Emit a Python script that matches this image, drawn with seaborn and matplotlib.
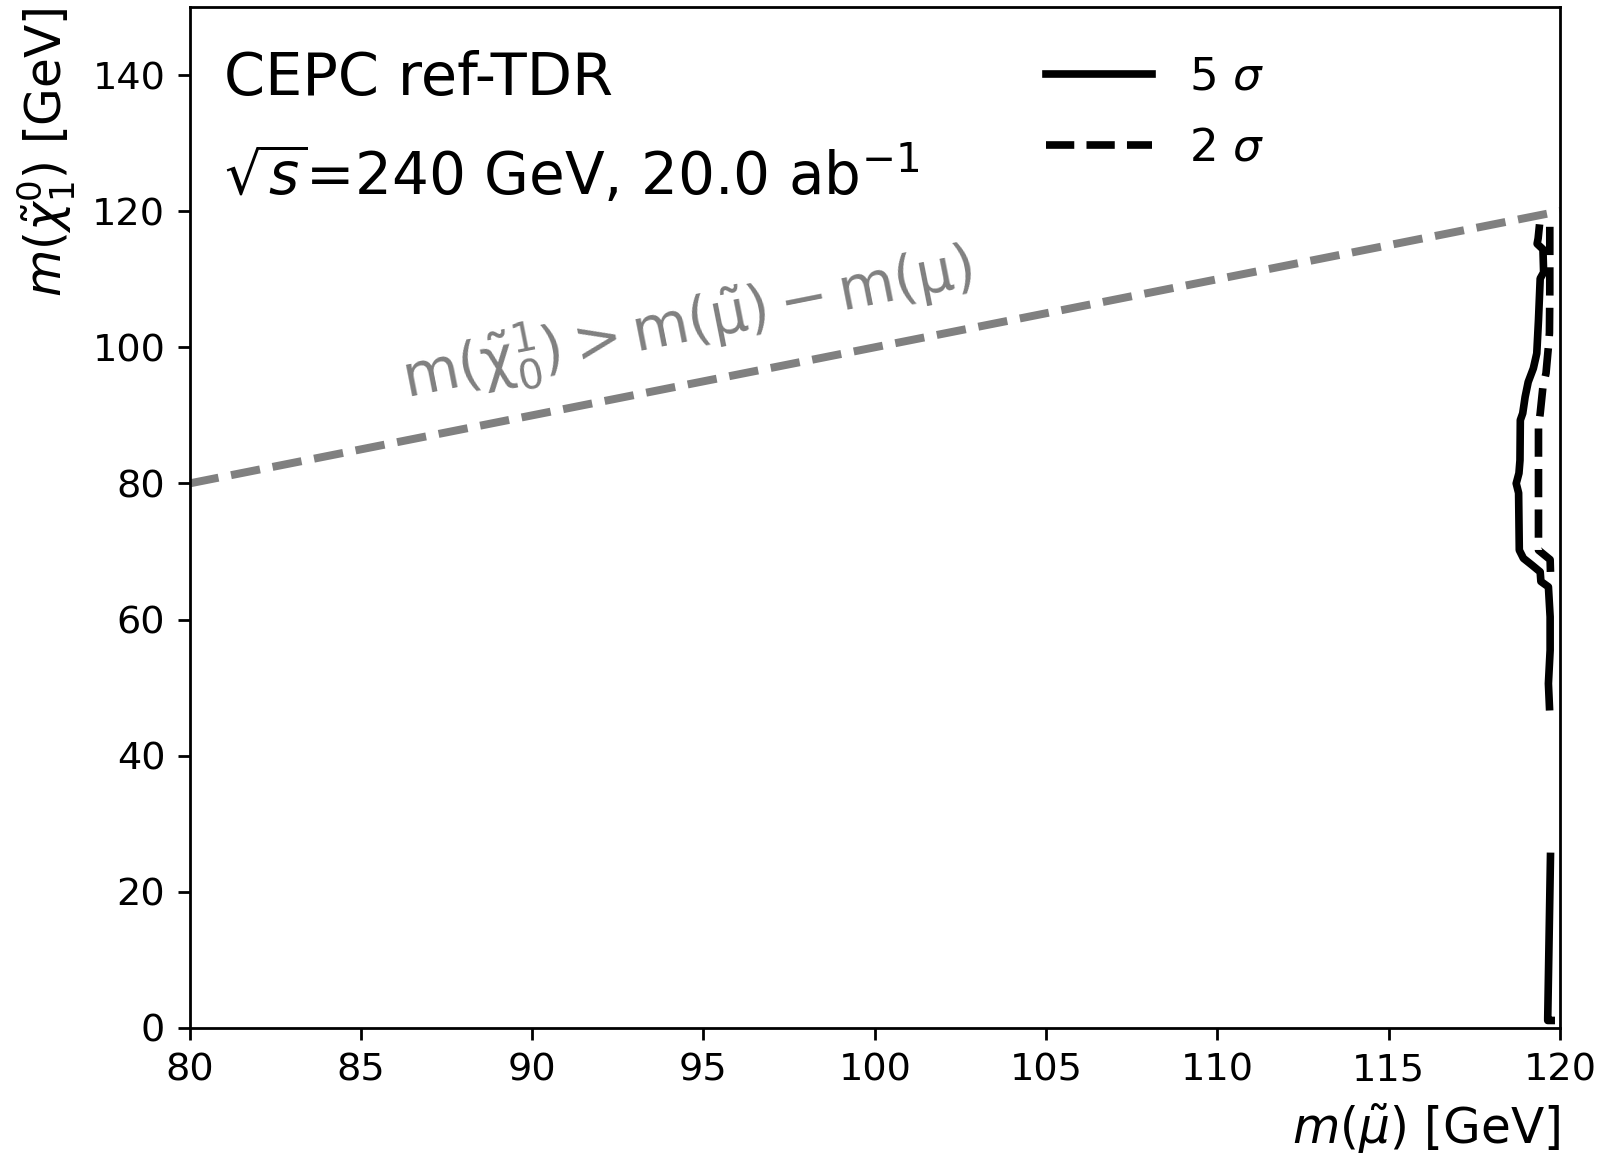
import matplotlib
matplotlib.use("Agg")
import matplotlib.pyplot as plt
from matplotlib.lines import Line2D
import seaborn as sns

# ---- data (GeV) ----
# 5 sigma discovery contour, upper branch: (m_smuon, m_neutralino)
sig5_upper_x = [119.39, 119.36, 119.33, 119.50, 119.52, 119.42, 119.37, 119.32,
                119.22, 119.07, 118.98, 118.91, 118.84, 118.83, 118.80, 118.72,
                118.79, 118.81, 118.93, 119.18, 119.42, 119.44, 119.66, 119.71,
                119.71, 119.66, 119.69]
sig5_upper_y = [117.5, 116.0, 115.2, 114.4, 111.0, 110.1, 104.0, 99.1,
                96.9, 94.9, 92.7, 90.3, 89.3, 83.4, 81.5, 80.0,
                78.6, 70.2, 69.0, 68.0, 67.0, 65.6, 64.8, 60.4,
                55.5, 50.6, 47.2]
# 5 sigma contour, low neutralino-mass branch
sig5_lower_x = [119.72, 119.64, 119.64, 119.74]
sig5_lower_y = [25.2, 1.5, 1.1, 1.1]
# 2 sigma exclusion contour
sig2_x = [119.70, 119.70, 119.69, 119.66, 119.59, 119.50, 119.42, 119.37,
          119.37, 119.37, 119.71, 119.72]
sig2_y = [117.7, 108.0, 102.1, 100.1, 96.2, 94.2, 90.3, 88.3,
          72.2, 70.2, 68.8, 67.0]
# kinematic limit m(chi) = m(smuon) - m(mu)
kin_x = [80, 120]
kin_y = [80, 120]

x_ticks = [80, 85, 90, 95, 100, 105, 110, 115, 120]
y_ticks = [0, 20, 40, 60, 80, 100, 120, 140]
legend_labels = [r"5 $\sigma$", r"2 $\sigma$"]

plt.rcParams["font.family"] = ["DejaVu Sans"]

fig = plt.figure(figsize=(6.424, 4.632), dpi=250)
ax = fig.add_axes([0.118, 0.1123, 0.8534, 0.8817])

sns.lineplot(x=kin_x, y=kin_y, sort=False, estimator=None, ax=ax,
             color="gray", linewidth=2.3, linestyle="--")
sns.lineplot(x=sig5_upper_x, y=sig5_upper_y, sort=False, estimator=None, ax=ax,
             color="black", linewidth=2.2)
sns.lineplot(x=sig5_lower_x, y=sig5_lower_y, sort=False, estimator=None, ax=ax,
             color="black", linewidth=2.2)
sns.lineplot(x=sig2_x, y=sig2_y, sort=False, estimator=None, ax=ax,
             color="black", linewidth=2.2, linestyle="--")

ax.set_xlim(80, 120)
ax.set_ylim(0, 150)
ax.set_xticks(x_ticks)
ax.set_yticks(y_ticks)
ax.tick_params(labelsize=11)

ax.set_xlabel(r"$m(\tilde{\mu})$ [GeV]", fontsize=14, loc="right")
ax.set_ylabel(r"$m(\tilde{\chi}_1^0)$ [GeV]", fontsize=14, loc="top")

ax.text(0.025, 0.914, "CEPC ref-TDR", fontsize=17, va="baseline",
        transform=ax.transAxes)
ax.text(0.025, 0.816, r"$\sqrt{s}$=240 GeV, 20.0 ab$^{-1}$", fontsize=16.7,
        va="baseline", transform=ax.transAxes)

ax.text(86.34, 92.5,
        r"$\mathrm{m}(\tilde{\mathrm{\chi}}^{1}_{0}) > \mathrm{m}(\tilde{\mathrm{\mu}}) - \mathrm{m}(\mathrm{\mu})$",
        fontsize=16.7, color="gray", ha="left", va="baseline",
        rotation=45, rotation_mode="anchor", transform_rotates_text=True,
        transform=ax.transData)

handles = [Line2D([], [], color="black", lw=2.2, ls="-"),
           Line2D([], [], color="black", lw=2.2, ls="--")]
ax.legend(handles, legend_labels, loc="upper left", bbox_to_anchor=(0.612, 0.970),
          borderaxespad=0, frameon=False, fontsize=13, handlelength=2.35,
          labelspacing=0.62)

fig.savefig("out.png", dpi=250)
